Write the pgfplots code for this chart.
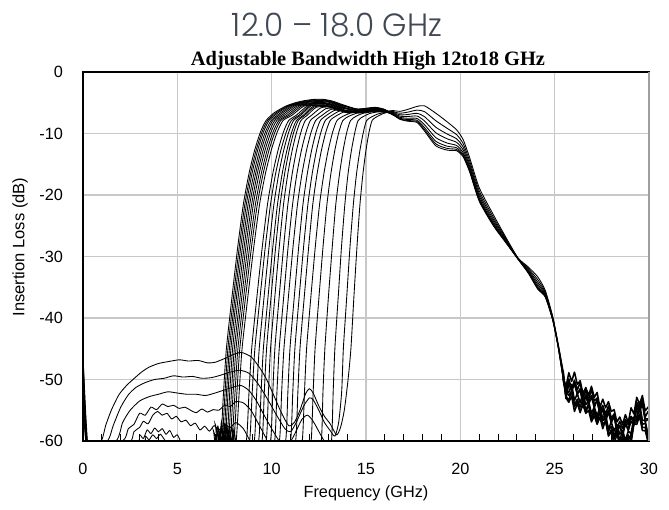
\documentclass[border=0pt]{standalone}
\usepackage{fontspec}
\setmainfont{Liberation Sans}
\newfontfamily\serifbold{Liberation Serif}
\newfontfamily\gothic{Poppins Light}
\usepackage{pgfplots}
\pgfplotsset{compat=1.18}
\definecolor{titlegray}{RGB}{64,72,84}
\definecolor{gridgray}{RGB}{200,200,200}
\tikzset{
  curve/.style={black, line width=0.65pt, smooth, tension=0.4},
  noise/.style={black, line width=1.15pt, line join=round},
}
\begin{document}
\begin{tikzpicture}
\path[use as bounding box] (-62.25pt,-51.75pt) rectangle (439.5pt,330.75pt);
\begin{axis}[
  at={(0pt,0pt)}, anchor=south west,
  scale only axis, width=424.5pt, height=276.75pt,
  xmin=0, xmax=30, ymin=-60, ymax=0,
  xtick={0,5,10,15,20,25,30}, xticklabels={0,5,10,15,20,25,30},
  ytick={-60,-50,-40,-30,-20,-10,0}, yticklabels={-60,-50,-40,-30,-20,-10,0},
  minor x tick num=4,
  xtick pos=left, ytick pos=left,
  tick align=inside,
  major tick length=0pt, minor tick length=5pt,
  minor tick style={black, line width=0.8pt},
  grid=major, major grid style={gridgray, line width=0.9pt},
  axis line style={black, line width=0.9pt},
  tick label style={font=\fontsize{12.2}{14}\selectfont},
  xticklabel style={yshift=-13pt},
  yticklabel style={xshift=-11.5pt},
  clip=true,
]
% ---- lower band edges, widest settings ----
\addplot[curve] coordinates {(0,-46) (0.3,-62) (6.75,-62) (6.9,-58.2) (7.02,-60.8) (7.15,-57.6) (7.30,-60) (7.45,-52) (7.60,-45) (7.90,-36.5) (8.20,-28.5) (8.50,-21.5) (8.80,-16.5) (9.10,-12.7) (9.40,-9.8) (9.70,-7.9) (10.15,-6.6) (10.75,-5.55) (11.25,-5.0) (11.75,-4.65) (12.25,-4.45) (12.75,-4.45) (13.25,-4.75) (13.75,-5.3) (14.5,-6.0) (15.0,-5.9) (15.5,-5.75) (16.0,-6.1) (16.5,-7.1)};
\addplot[curve] coordinates {(0,-46) (0.3,-62) (6.85,-62) (7.0,-57.2) (7.12,-60.5) (7.25,-58.4) (7.38,-60) (7.53,-52) (7.68,-45) (7.98,-36.5) (8.28,-28.5) (8.58,-21.5) (8.88,-16.5) (9.18,-12.7) (9.48,-9.8) (9.78,-7.9) (10.23,-6.65) (10.83,-5.55) (11.25,-5.1) (11.75,-4.75) (12.25,-4.55) (12.75,-4.55) (13.25,-4.85) (13.75,-5.4) (14.5,-6.04) (15.0,-5.94) (15.5,-5.79) (16.0,-6.13) (16.5,-7.05)};
\addplot[curve] coordinates {(0,-46) (0.3,-62) (6.95,-62) (7.1,-58.6) (7.22,-61) (7.34,-56.8) (7.46,-60) (7.61,-52) (7.76,-45) (8.06,-36.5) (8.36,-28.5) (8.66,-21.5) (8.96,-16.5) (9.26,-12.7) (9.56,-9.8) (9.86,-7.9) (10.31,-6.7) (10.91,-5.53) (11.25,-5.2) (11.75,-4.85) (12.25,-4.65) (12.75,-4.65) (13.25,-4.95) (13.75,-5.5) (14.5,-6.08) (15.0,-5.98) (15.5,-5.83) (16.0,-6.16) (16.5,-7.1)};
\addplot[curve] coordinates {(0,-46) (0.3,-62) (7.0,-62) (7.15,-57.9) (7.28,-60.6) (7.42,-58.9) (7.54,-60) (7.69,-52) (7.84,-45) (8.14,-36.5) (8.45,-28.5) (8.75,-21.5) (9.06,-16.5) (9.36,-12.7) (9.66,-9.8) (9.97,-7.9) (10.42,-6.75) (11.03,-5.48) (11.5,-5.1) (12.0,-4.8) (12.5,-4.7) (13.0,-4.8) (13.5,-5.3) (14.0,-5.9) (14.5,-6.12) (15.0,-6.02) (15.5,-5.87) (16.0,-6.19) (16.5,-7.0)};
\addplot[curve] coordinates {(0,-46) (0.3,-62) (7.1,-62) (7.25,-59.2) (7.37,-61) (7.5,-57.3) (7.63,-60) (7.78,-52) (7.93,-45) (8.23,-36.5) (8.54,-28.5) (8.84,-21.5) (9.15,-16.5) (9.45,-12.7) (9.75,-9.8) (10.06,-7.9) (10.51,-6.8) (11.12,-5.5) (11.5,-5.2) (12.0,-4.9) (12.5,-4.8) (13.0,-4.9) (13.5,-5.4) (14.0,-6.0) (14.5,-6.16) (15.0,-6.06) (15.5,-5.91) (16.0,-6.22) (16.5,-7.05)};
\addplot[curve] coordinates {(0,-46) (0.3,-62) (7.2,-62) (7.35,-58.0) (7.47,-60.4) (7.6,-57.0) (7.71,-60) (7.87,-52) (8.02,-45) (8.33,-36.5) (8.63,-28.5) (8.94,-21.5) (9.24,-16.5) (9.55,-12.7) (9.86,-9.8) (10.16,-7.9) (10.62,-6.85) (11.23,-5.5) (11.75,-5.15) (12.25,-4.95) (12.75,-4.95) (13.25,-5.25) (13.75,-5.8) (14.5,-6.2) (15.0,-6.1) (15.5,-5.95) (16.0,-6.25) (16.5,-6.9)};
\addplot[curve] coordinates {(0,-46) (0.3,-62) (7.3,-62) (7.45,-58.8) (7.57,-61) (7.68,-57.9) (7.80,-60) (7.96,-52) (8.11,-45) (8.42,-36.5) (8.73,-28.5) (9.03,-21.5) (9.34,-16.5) (9.65,-12.7) (9.96,-9.8) (10.27,-7.9) (10.73,-6.9) (11.34,-5.52) (11.75,-5.25) (12.25,-5.05) (12.75,-5.05) (13.25,-5.35) (13.75,-5.9) (14.5,-6.24) (15.0,-6.14) (15.5,-5.99) (16.0,-6.28) (16.5,-7.0)};
\addplot[curve] coordinates {(0,-46) (0.3,-62) (7.4,-62) (7.55,-57.4) (7.67,-60.2) (7.78,-58.2) (7.90,-60) (8.06,-52) (8.21,-45) (8.52,-36.5) (8.83,-28.5) (9.14,-21.5) (9.45,-16.5) (9.76,-12.7) (10.07,-9.8) (10.38,-7.9) (10.85,-6.95) (11.47,-5.52) (12.0,-5.2) (12.5,-5.1) (13.0,-5.2) (13.5,-5.7) (14.0,-6.3) (14.5,-6.28) (15.0,-6.18) (15.5,-6.03) (16.0,-6.31) (16.5,-7.1)};
\addplot[curve] coordinates {(0,-46) (0.3,-62) (7.5,-62) (7.65,-58.4) (7.77,-61) (7.88,-57.6) (8.00,-60) (8.16,-52) (8.31,-45) (8.62,-36.5) (8.93,-28.5) (9.24,-21.5) (9.55,-16.5) (9.86,-12.7) (10.17,-9.8) (10.48,-7.9) (10.95,-7.0) (11.57,-5.56) (12.0,-5.3) (12.5,-5.2) (13.0,-5.3) (13.5,-5.8) (14.0,-6.4) (14.5,-6.32) (15.0,-6.22) (15.5,-6.07) (16.0,-6.34) (16.5,-6.8)};
\addplot[curve] coordinates {(0,-46) (0.3,-62) (7.6,-62) (7.75,-59.0) (7.88,-60.8) (8.0,-58.1) (8.12,-60) (8.28,-52) (8.43,-45) (8.74,-36.5) (9.05,-28.5) (9.36,-21.5) (9.67,-16.5) (9.98,-12.7) (10.29,-9.8) (10.60,-7.9) (11.07,-7.05) (11.69,-5.58) (12.25,-5.35) (12.75,-5.35) (13.25,-5.65) (13.75,-6.2) (14.5,-6.36) (15.0,-6.26) (15.5,-6.11) (16.0,-6.37) (16.5,-7.05)};
% ---- separated settings ----
\addplot[curve] coordinates {(0,-46) (0.3,-62) (8.3,-62) (8.66,-60) (8.80,-52) (8.94,-45) (9.22,-36.5) (9.50,-28.5) (9.78,-21.5) (10.06,-16.5) (10.34,-12.7) (10.62,-9.8) (10.90,-7.9) (11.32,-7.0) (11.88,-5.57) (12.5,-5.4) (13.0,-5.5) (13.5,-6.0) (14.0,-6.6) (14.5,-6.4) (15.0,-6.3) (15.5,-6.15) (16.0,-6.4) (16.5,-6.9)};
\addplot[curve] coordinates {(0,-46) (0.3,-62) (8.5,-62) (8.83,-60) (8.97,-52) (9.11,-45) (9.39,-36.5) (9.66,-28.5) (9.94,-21.5) (10.21,-16.5) (10.49,-12.7) (10.77,-9.8) (11.04,-7.9) (11.46,-7.0) (12.01,-5.5) (12.5,-5.4) (13.0,-5.5) (13.5,-6.0) (14.0,-6.6) (14.5,-6.4) (15.0,-6.3) (15.5,-6.15) (16.0,-6.4) (16.5,-6.65)};
\addplot[curve] coordinates {(0,-46) (0.3,-62) (8.7,-62) (9.08,-60) (9.21,-52) (9.34,-45) (9.60,-36.5) (9.86,-28.5) (10.12,-21.5) (10.38,-16.5) (10.64,-12.7) (10.90,-9.8) (11.16,-7.9) (11.55,-7.0) (12.07,-5.55) (12.5,-5.4) (13.0,-5.5) (13.5,-6.0) (14.0,-6.6) (14.5,-6.4) (15.0,-6.3) (15.5,-6.15) (16.0,-6.4) (16.5,-7.0)};
\addplot[curve] coordinates {(0,-46) (0.3,-62) (8.9,-62) (9.31,-60) (9.44,-52) (9.56,-45) (9.81,-36.5) (10.06,-28.5) (10.31,-21.5) (10.56,-16.5) (10.81,-12.7) (11.06,-9.8) (11.31,-7.9) (11.69,-7.0) (12.19,-5.6) (12.75,-5.45) (13.25,-5.75) (13.75,-6.3) (14.5,-6.4) (15.0,-6.3) (15.5,-6.15) (16.0,-6.4) (16.5,-6.8)};
\addplot[curve] coordinates {(0,-46) (0.3,-62) (9.1,-62) (9.49,-60) (9.61,-52) (9.73,-45) (9.97,-36.5) (10.21,-28.5) (10.45,-21.5) (10.69,-16.5) (10.93,-12.7) (11.17,-9.8) (11.41,-7.9) (11.77,-7.0) (12.25,-5.7) (12.75,-5.5) (13.25,-5.8) (13.75,-6.3) (14.5,-6.4) (15.0,-6.3) (15.5,-6.15) (16.0,-6.4) (16.5,-6.5)};
\addplot[curve] coordinates {(0,-46) (0.3,-62) (9.3,-62) (9.71,-60) (9.83,-52) (9.94,-45) (10.17,-36.5) (10.40,-28.5) (10.63,-21.5) (10.86,-16.5) (11.09,-12.7) (11.32,-9.8) (11.55,-7.9) (11.90,-7.0) (12.36,-5.75) (13.0,-5.6) (13.5,-6.0) (14.0,-6.6) (14.5,-6.45) (15.0,-6.3) (15.5,-6.15) (16.0,-6.4) (16.5,-6.9)};
\addplot[curve] coordinates {(0,-46) (0.3,-62) (9.5,-62) (9.94,-60) (10.06,-52) (10.17,-45) (10.40,-36.5) (10.63,-28.5) (10.86,-21.5) (11.09,-16.5) (11.32,-12.7) (11.55,-9.8) (11.78,-7.9) (12.13,-7.0) (12.59,-5.85) (13.0,-5.7) (13.5,-6.05) (14.0,-6.6) (14.5,-6.45) (15.0,-6.3) (15.5,-6.15) (16.0,-6.4) (16.5,-6.65)};
\addplot[curve] coordinates {(0,-46) (0.3,-62) (9.8,-62) (10.16,-60) (10.28,-52) (10.40,-45) (10.64,-36.5) (10.87,-28.5) (11.11,-21.5) (11.34,-16.5) (11.58,-12.7) (11.82,-9.8) (12.05,-7.9) (12.41,-7.0) (12.88,-5.95) (13.25,-5.9) (13.75,-6.3) (14.5,-6.45) (15.0,-6.3) (15.5,-6.15) (16.0,-6.35) (16.5,-6.3)};
\addplot[curve] coordinates {(0,-46) (0.3,-62) (10.0,-62) (10.41,-60) (10.53,-52) (10.65,-45) (10.89,-36.5) (11.13,-28.5) (11.37,-21.5) (11.61,-16.5) (11.85,-12.7) (12.09,-9.8) (12.33,-7.9) (12.69,-7.0) (13.17,-6.05) (13.75,-6.35) (14.5,-6.5) (15.0,-6.35) (15.5,-6.2) (16.0,-6.4) (16.5,-6.8)};
\addplot[curve] coordinates {(0,-46) (0.3,-62) (10.3,-62) (10.74,-60) (10.86,-52) (10.97,-45) (11.20,-36.5) (11.43,-28.5) (11.66,-21.5) (11.89,-16.5) (12.12,-12.7) (12.35,-9.8) (12.58,-7.9) (12.93,-7.0) (13.39,-6.2) (14.0,-6.55) (14.5,-6.5) (15.0,-6.35) (15.5,-6.2) (16.0,-6.4) (16.5,-6.5)};
\addplot[curve] coordinates {(0,-46) (0.3,-62) (10.6,-62) (11.00,-60) (11.12,-52) (11.23,-45) (11.46,-36.5) (11.69,-28.5) (11.92,-21.5) (12.15,-16.5) (12.38,-12.7) (12.61,-9.8) (12.84,-7.9) (13.19,-7.05) (13.65,-6.3) (14.2,-6.6) (14.6,-6.55) (15.0,-6.4) (15.5,-6.25) (16.0,-6.45) (16.5,-6.65)};
% ---- narrow settings with low-band leakage ----
\addplot[curve] coordinates {(0,-46) (0.3,-62) (3.1,-60.5) (3.3,-59.2) (3.5,-59.8) (3.7,-59.0) (3.9,-59.6) (4.1,-58.9) (4.3,-59.7) (4.5,-60.5) (4.8,-61.5) (10.9,-61.5) (11.27,-60) (11.39,-52) (11.50,-45) (11.73,-36.5) (11.96,-28.5) (12.18,-21.5) (12.41,-16.5) (12.64,-12.7) (12.87,-9.8) (13.10,-7.9) (13.44,-7.1) (13.89,-6.45) (14.5,-6.6) (15.0,-6.4) (15.5,-6.25) (16.0,-6.4) (16.5,-6.3)};
\addplot[curve] coordinates {(0,-46) (0.3,-62) (2.8,-60.5) (3.0,-59) (3.2,-59.6) (3.4,-58.2) (3.6,-58.8) (3.8,-57.9) (4.0,-58.5) (4.2,-58.0) (4.4,-58.9) (4.6,-58.3) (4.8,-59.4) (5.0,-59.0) (5.2,-60.2) (5.5,-61.5) (11.3,-61.5) (11.62,-60) (11.74,-52) (11.85,-45) (12.08,-36.5) (12.31,-28.5) (12.54,-21.5) (12.77,-16.5) (13.00,-12.7) (13.23,-9.8) (13.46,-7.9) (13.81,-7.15) (14.27,-6.6) (14.7,-6.65) (15.2,-6.45) (15.6,-6.3) (16.0,-6.45) (16.5,-6.5)};
\addplot[curve] coordinates {(0,-46) (0.3,-62) (2.4,-60.5) (2.7,-58.5) (3.0,-57.8) (3.2,-56.8) (3.45,-57.2) (3.7,-55.8) (3.95,-55.2) (4.2,-55.8) (4.45,-55.5) (4.7,-56.4) (4.95,-56.0) (5.2,-56.9) (5.45,-56.6) (5.7,-57.5) (5.95,-57.1) (6.2,-58.2) (6.45,-57.6) (6.7,-58.4) (6.95,-57.5) (7.2,-58.2) (7.5,-57.3) (7.8,-57.8) (8.1,-57.0) (8.5,-58.0) (8.9,-60.2) (9.3,-61.5) (11.8,-61.5) (12.09,-60) (12.20,-52) (12.30,-45) (12.51,-36.5) (12.72,-28.5) (12.93,-21.5) (13.14,-16.5) (13.35,-12.7) (13.56,-9.8) (13.77,-7.9) (14.09,-7.2) (14.51,-6.7) (15.0,-6.5) (15.5,-6.35) (16.0,-6.5) (16.5,-6.9)};
\addplot[curve] coordinates {(0,-46) (0.3,-62) (2.1,-60) (2.4,-58) (2.7,-57.3) (3.0,-55.5) (3.3,-55.8) (3.6,-54.5) (3.9,-54.9) (4.2,-54.0) (4.5,-54.4) (4.8,-54.2) (5.1,-54.7) (5.4,-54.5) (5.7,-55.0) (6.0,-55.4) (6.3,-54.8) (6.6,-55.3) (6.9,-54.9) (7.2,-55.0) (7.5,-54.2) (7.8,-54.4) (8.1,-53.6) (8.5,-53.8) (8.9,-55) (9.3,-57.2) (9.7,-59.5) (10.0,-61) (12.3,-61) (12.63,-60) (12.72,-52) (12.82,-45) (13.01,-36.5) (13.21,-28.5) (13.40,-21.5) (13.60,-16.5) (13.79,-12.7) (13.98,-9.8) (14.18,-7.9) (14.47,-7.2) (14.86,-6.7) (15.3,-6.5) (15.7,-6.4) (16.1,-6.5) (16.5,-6.3)};
\addplot[curve] coordinates {(0,-46) (0.3,-62) (1.75,-60) (2.1,-57) (2.5,-55) (3.0,-53.5) (3.5,-52.8) (4.0,-52.4) (4.5,-52.0) (5.0,-52.2) (5.5,-52.4) (6.0,-52.4) (6.5,-52.6) (7.0,-52.2) (7.5,-51.7) (8.0,-51.2) (8.4,-51.0) (8.8,-51.8) (9.2,-53.5) (9.6,-55.8) (10.0,-58) (10.4,-60) (10.8,-61) (11.2,-59) (11.6,-56.5) (11.9,-55.8) (12.2,-56.8) (12.6,-59) (12.9,-60.5) (13.17,-60) (13.26,-52) (13.35,-45) (13.53,-36.5) (13.70,-28.5) (13.88,-21.5) (14.05,-16.5) (14.23,-12.7) (14.41,-9.8) (14.58,-7.9) (14.85,-7.25) (15.20,-6.75) (15.6,-6.5) (16.0,-6.55) (16.5,-6.65)};
\addplot[curve] coordinates {(0,-46) (0.3,-62) (1.3,-60) (1.6,-57.5) (2.0,-54.5) (2.4,-52.5) (2.8,-51.3) (3.3,-50.5) (3.8,-50.0) (4.3,-49.8) (4.8,-49.4) (5.3,-49.6) (5.8,-49.5) (6.3,-49.8) (6.8,-49.7) (7.3,-49.3) (7.8,-48.8) (8.3,-48.5) (8.8,-49.0) (9.3,-50.8) (9.8,-53.3) (10.3,-56) (10.7,-58) (11.0,-58.5) (11.3,-57) (11.7,-54.3) (12.0,-53) (12.2,-53.3) (12.5,-55) (12.8,-57) (13.1,-58.3) (13.35,-59.2) (13.55,-57) (13.71,-52) (13.80,-45) (13.98,-36.5) (14.15,-28.5) (14.33,-21.5) (14.50,-16.5) (14.68,-12.7) (14.86,-9.8) (15.03,-7.9) (15.30,-7.3) (15.65,-6.8) (16.0,-6.6) (16.5,-6.5)};
\addplot[curve] coordinates {(0,-46) (0.3,-62) (0.97,-60) (1.2,-57.5) (1.5,-55) (1.9,-52.5) (2.3,-51) (2.65,-50) (3.1,-48.8) (3.5,-48) (4.0,-47.4) (4.5,-47.1) (5.1,-46.8) (5.6,-47.0) (6.1,-46.9) (6.6,-47.3) (7.0,-47.2) (7.5,-46.6) (8.0,-45.9) (8.4,-45.6) (8.9,-46.3) (9.3,-47.8) (9.7,-49.8) (10.1,-52.5) (10.5,-55.3) (10.9,-57.5) (11.2,-57) (11.5,-55) (11.8,-52.3) (12.0,-51.5) (12.2,-52.2) (12.5,-54.3) (12.8,-56) (13.1,-57.2) (13.44,-59) (13.65,-57.8) (13.85,-55) (14.05,-50) (14.2,-45) (14.36,-36.5) (14.52,-28.5) (14.68,-21.5) (14.84,-16.5) (15.00,-12.7) (15.16,-9.8) (15.32,-7.9) (15.56,-7.3) (15.88,-6.8) (16.2,-6.5) (16.5,-6.3)};
% ---- shared upper roll-off ----
\addplot[curve] coordinates {(16.5,-7.1) (16.8,-7.7) (17.2,-8.0) (17.7,-8.2) (18.1,-9.6) (18.7,-12.0) (19.3,-12.7) (19.8,-12.8) (20.15,-13.8) (20.5,-16.3) (21.0,-21.0) (21.75,-25.0) (22.4,-27.7) (23.05,-30.4) (23.6,-32.7) (24.1,-35.3) (24.5,-36.6) (24.9,-40.4) (25.2,-45.0) (25.45,-50.0)};
\addplot[curve] coordinates {(16.5,-7.05) (16.8,-7.62) (17.2,-7.89) (17.7,-8.04) (18.1,-9.35) (18.7,-11.68) (19.3,-12.42) (19.8,-12.6) (20.15,-13.63) (20.5,-16.16) (21.0,-20.87) (21.75,-24.89) (22.4,-27.65) (23.05,-30.39) (23.6,-32.64) (24.1,-35.18) (24.5,-36.53) (24.9,-40.36) (25.2,-44.96) (25.45,-49.91)};
\addplot[curve] coordinates {(16.5,-7.0) (16.8,-7.52) (17.2,-7.73) (17.7,-7.84) (18.1,-9.03) (18.7,-11.26) (19.3,-12.06) (19.8,-12.32) (20.15,-13.41) (20.5,-15.98) (21.0,-20.69) (21.75,-24.75) (22.4,-27.57) (23.05,-30.37) (23.6,-32.56) (24.1,-35.02) (24.5,-36.45) (24.9,-40.32) (25.2,-44.92) (25.45,-49.79)};
\addplot[curve] coordinates {(16.5,-6.9) (16.8,-7.37) (17.2,-7.52) (17.7,-7.55) (18.1,-8.57) (18.7,-10.67) (19.3,-11.55) (19.8,-11.95) (20.15,-13.1) (20.5,-15.72) (21.0,-20.45) (21.75,-24.55) (22.4,-27.47) (23.05,-30.35) (23.6,-32.45) (24.1,-34.8) (24.5,-36.32) (24.9,-40.25) (25.2,-44.85) (25.45,-49.62)};
\addplot[curve] coordinates {(16.5,-6.8) (16.8,-7.18) (17.2,-7.24) (17.7,-7.16) (18.1,-7.96) (18.7,-9.88) (19.3,-10.86) (19.8,-11.44) (20.15,-12.68) (20.5,-15.38) (21.0,-20.12) (21.75,-24.28) (22.4,-27.34) (23.05,-30.32) (23.6,-32.3) (24.1,-34.5) (24.5,-36.16) (24.9,-40.16) (25.2,-44.76) (25.45,-49.4)};
\addplot[curve] coordinates {(16.5,-6.65) (16.8,-6.96) (17.2,-6.92) (17.7,-6.72) (18.1,-7.26) (18.7,-8.98) (19.3,-10.08) (19.8,-10.86) (20.15,-12.2) (20.5,-14.99) (21.0,-19.75) (21.75,-23.97) (22.4,-27.19) (23.05,-30.29) (23.6,-32.13) (24.1,-34.16) (24.5,-35.97) (24.9,-40.06) (25.2,-44.66) (25.45,-49.14)};
\addplot[curve] coordinates {(16.5,-6.5) (16.8,-6.7) (17.2,-6.54) (17.7,-6.2) (18.1,-6.44) (18.7,-7.92) (19.3,-9.16) (19.8,-10.18) (20.15,-11.64) (20.5,-14.53) (21.0,-19.31) (21.75,-23.61) (22.4,-27.01) (23.05,-30.25) (23.6,-31.93) (24.1,-33.76) (24.5,-35.75) (24.9,-39.94) (25.2,-44.54) (25.45,-48.84)};
\addplot[curve] coordinates {(16.5,-6.3) (16.8,-6.4) (17.2,-6.1) (17.7,-5.6) (18.1,-5.5) (18.7,-6.7) (19.3,-8.1) (19.8,-9.4) (20.15,-11.0) (20.5,-14.0) (21.0,-18.8) (21.75,-23.2) (22.4,-26.8) (23.05,-30.2) (23.6,-31.7) (24.1,-33.3) (24.5,-35.5) (24.9,-39.8) (25.2,-44.4) (25.45,-48.5)};
% ---- measured noise floor above the passband ----
\addplot[noise] coordinates {(25.45,-50.0) (25.6,-52.7) (25.75,-53.4) (25.9,-51.8) (26.05,-54.4) (26.2,-53.6) (26.35,-55.4) (26.5,-53.8) (26.65,-55.3) (26.8,-54.1) (26.95,-56.5) (27.1,-55.3) (27.25,-56.9) (27.4,-55.3) (27.55,-57.3) (27.7,-56.8) (27.85,-59.0) (28.0,-58.2) (28.15,-59.7) (28.3,-58.3) (28.45,-60.3) (28.6,-59.3) (28.75,-61.3) (28.9,-59.4) (29.05,-59.8) (29.2,-57.2) (29.35,-56.8) (29.5,-55.6) (29.65,-57.8) (29.8,-57.8) (29.95,-59.7) (30.1,-59.0)};
\addplot[noise] coordinates {(25.45,-49.91) (25.6,-51.9) (25.75,-49.9) (25.9,-51.6) (26.05,-50.1) (26.2,-51.7) (26.35,-50.5) (26.5,-53.0) (26.65,-51.8) (26.8,-53.3) (26.95,-51.6) (27.1,-53.5) (27.25,-53.0) (27.4,-55.1) (27.55,-54.2) (27.7,-55.6) (27.85,-54.3) (28.0,-56.3) (28.15,-55.6) (28.3,-58.0) (28.45,-56.8) (28.6,-58.0) (28.75,-56.5) (28.9,-57.4) (29.05,-56.0) (29.2,-56.5) (29.35,-53.7) (29.5,-54.3) (29.65,-53.3) (29.8,-56.1) (29.95,-55.2) (30.1,-56.0)};
\addplot[noise] coordinates {(25.45,-49.79) (25.6,-51.7) (25.75,-52.1) (25.9,-50.8) (26.05,-53.4) (26.2,-52.3) (26.35,-53.8) (26.5,-52.2) (26.65,-54.1) (26.8,-53.5) (26.95,-55.5) (27.1,-54.5) (27.25,-55.9) (27.4,-54.5) (27.55,-56.4) (27.7,-55.6) (27.85,-58.1) (28.0,-56.9) (28.15,-58.4) (28.3,-57.3) (28.45,-58.9) (28.6,-58.3) (28.75,-59.9) (28.9,-58.4) (29.05,-58.8) (29.2,-56.1) (29.35,-56.1) (29.5,-53.9) (29.65,-56.6) (29.8,-56.7) (29.95,-59.1) (30.1,-58.0)};
\addplot[noise] coordinates {(25.45,-49.62) (25.6,-51.2) (25.75,-48.9) (25.9,-50.3) (26.05,-48.8) (26.2,-50.8) (26.35,-50.2) (26.5,-52.3) (26.65,-51.3) (26.8,-52.6) (26.95,-51.1) (27.1,-52.9) (27.25,-52.1) (27.4,-54.5) (27.55,-53.2) (27.7,-54.6) (27.85,-53.6) (28.0,-55.2) (28.15,-54.9) (28.3,-56.9) (28.45,-56.1) (28.6,-57.3) (28.75,-55.7) (28.9,-57.0) (29.05,-54.6) (29.2,-55.6) (29.35,-52.9) (29.5,-54.0) (29.65,-52.6) (29.8,-55.1) (29.95,-54.5) (30.1,-55.5)};
\addplot[noise] coordinates {(25.45,-49.4) (25.6,-51.8) (25.75,-52.6) (25.9,-51.9) (26.05,-54.1) (26.2,-53.2) (26.35,-54.5) (26.5,-53.1) (26.65,-54.9) (26.8,-54.0) (26.95,-56.3) (27.1,-54.9) (27.25,-56.3) (27.4,-55.2) (27.55,-56.7) (27.7,-56.3) (27.85,-58.4) (28.0,-57.6) (28.15,-59.1) (28.3,-57.9) (28.45,-59.9) (28.6,-58.3) (28.75,-60.4) (28.9,-59.0) (29.05,-59.9) (29.2,-56.8) (29.35,-56.5) (29.5,-54.6) (29.65,-57.3) (29.8,-57.1) (29.95,-59.2) (30.1,-58.4)};
\addplot[noise] coordinates {(25.45,-49.14) (25.6,-52.7) (25.75,-50.6) (25.9,-51.8) (26.05,-50.5) (26.2,-52.4) (26.35,-51.5) (26.5,-53.9) (26.65,-52.5) (26.8,-53.8) (26.95,-52.6) (27.1,-54.0) (27.25,-53.6) (27.4,-55.6) (27.55,-54.7) (27.7,-56.1) (27.85,-55.0) (28.0,-57.0) (28.15,-55.7) (28.3,-58.2) (28.45,-57.5) (28.6,-59.2) (28.75,-57.2) (28.9,-58.2) (29.05,-56.1) (29.2,-57.1) (29.35,-54.1) (29.5,-54.9) (29.65,-53.5) (29.8,-56.4) (29.95,-56.4) (30.1,-57.0)};
\addplot[noise] coordinates {(25.45,-48.84) (25.6,-53.0) (25.75,-53.7) (25.9,-52.7) (26.05,-55.2) (26.2,-53.9) (26.35,-55.2) (26.5,-54.1) (26.65,-55.5) (26.8,-55.0) (26.95,-56.9) (27.1,-55.9) (27.25,-57.3) (27.4,-56.1) (27.55,-58.0) (27.7,-56.6) (27.85,-59.2) (28.0,-58.5) (28.15,-60.5) (28.3,-58.9) (28.45,-60.6) (28.6,-59.3) (28.75,-61.4) (28.9,-59.7) (29.05,-60.3) (29.2,-57.2) (29.35,-57.3) (29.5,-56.0) (29.65,-58.3) (29.8,-58.3) (29.95,-60.2) (30.1,-59.5)};
\addplot[noise] coordinates {(25.45,-48.5) (25.6,-53.1) (25.75,-50.6) (25.9,-51.8) (26.05,-50.8) (26.2,-52.3) (26.35,-51.8) (26.5,-53.8) (26.65,-52.8) (26.8,-54.1) (26.95,-52.8) (27.1,-54.6) (27.25,-53.2) (27.4,-55.7) (27.55,-54.9) (27.7,-56.8) (27.85,-55.3) (28.0,-57.0) (28.15,-56.0) (28.3,-58.5) (28.45,-57.5) (28.6,-58.9) (28.75,-56.9) (28.9,-58.3) (29.05,-56.8) (29.2,-57.4) (29.35,-54.6) (29.5,-55.2) (29.65,-54.0) (29.8,-56.8) (29.95,-56.5) (30.1,-57.2)};
\end{axis}
\draw[gray!75, line width=1.4pt] (424.5pt,0pt) -- (424.5pt,276.75pt);
\node[anchor=base, font=\fontsize{12.2}{14}\selectfont] at (212.25pt,-42.75pt) {Frequency (GHz)};
\node[rotate=90, anchor=center, font=\fontsize{12.4}{14}\selectfont] at (-47.25pt,145.5pt) {Insertion Loss (dB)};
\node[anchor=base, inner sep=0pt] at (213.75pt,281.25pt) {\resizebox{265.5pt}{!}{\fontsize{15.3}{18}\serifbold\bfseries Adjustable Bandwidth High 12to18 GHz}};
\node[anchor=base, inner sep=0pt, text=titlegray] at (190.5pt,303.5pt) {\resizebox{157.5pt}{17.6pt}{\gothic 12.0 – 18.0 GHz}};
\end{tikzpicture}
\end{document}
